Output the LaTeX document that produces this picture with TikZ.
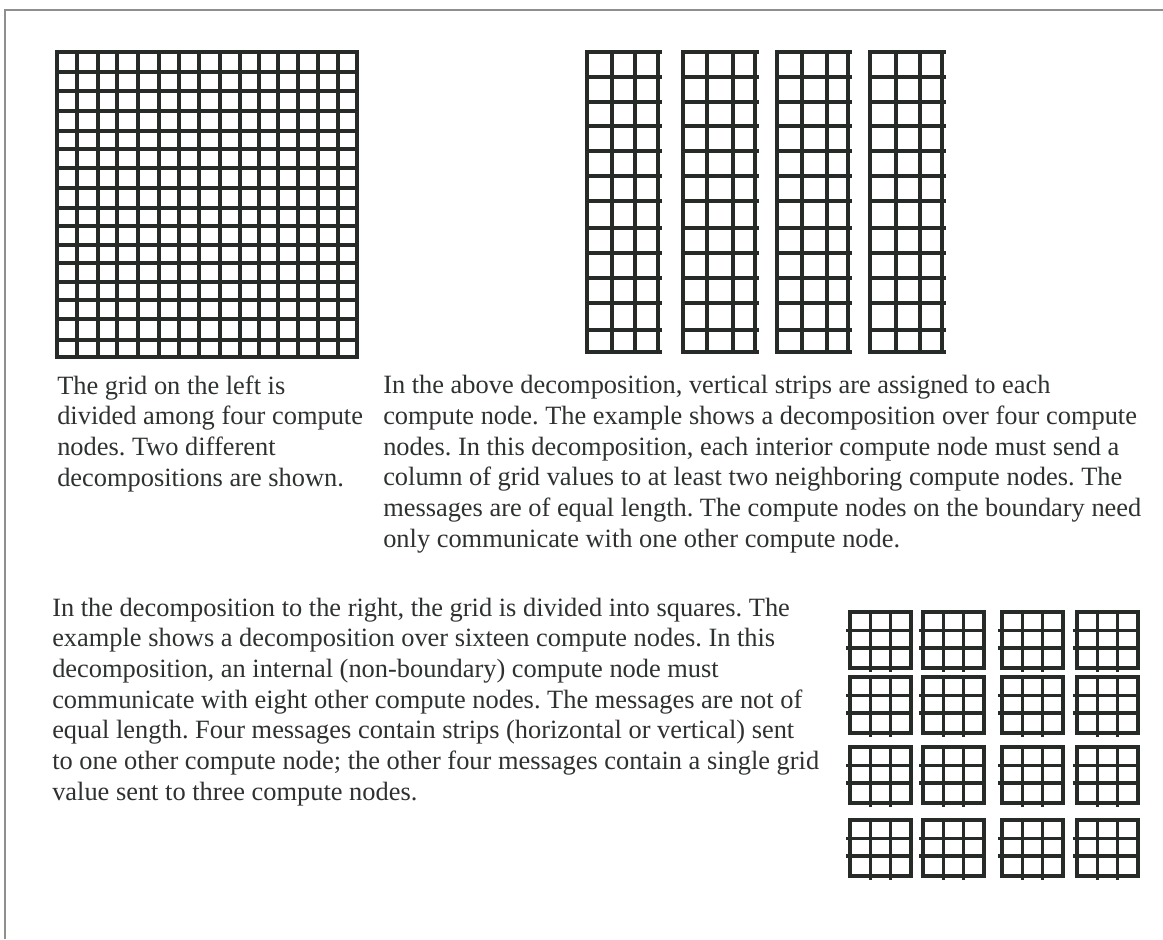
\documentclass[tikz,border=0pt]{standalone}
\usepackage{fontspec}
\setmainfont{Liberation Serif}
\definecolor{ink}{HTML}{272B28}
\definecolor{txt}{HTML}{2E322F}
\definecolor{framec}{HTML}{8E908E}
\begin{document}
\frenchspacing
\begin{tikzpicture}[x=0.75pt,y=-0.75pt,
  gridline/.style={draw=ink,line width=2.5pt,line cap=rect},
  para/.style={anchor=north west,inner sep=0pt,align=left,text=txt,
    font=\fontsize{19.8}{23}\selectfont}]
\fill[white] (0,0) rectangle (1163,939);
\useasboundingbox (0,0) rectangle (1163,939);
% page frame
\draw[framec,line width=1.1pt] (5,939) -- (5,10) -- (1163,10);
% big grid
\foreach \x in {57,77,98,117,138,159,179,199,220,240,259,278,298,318,338,357}
  \draw[gridline] (\x,52) -- (\x,357);
\foreach \y in {52,72,91,111,131,149,168,188,208,226,245,263,282,300,319,340,357}
  \draw[gridline] (57,\y) -- (357,\y);
% vertical strips
\foreach \a/\b/\c/\d in {587/612/635/658,683/707/733/755,777/802/827/848,870/896/920/942}{
  \foreach \x in {\a,\b,\c,\d}
    \draw[gridline] (\x,52) -- (\x,352);
  \foreach \y in {52,77,102,126,151,176,201,228,253,278,303,330,352}
    \draw[gridline] (\a,\y) -- ({\d+2},\y);
}
% square blocks
\foreach \sx in {850,923,1002,1077}{
  \foreach \sy in {612,677,747,820}{
    \draw[gridline] (\sx,\sy) rectangle ({\sx+61},{\sy+56});
    \draw[gridline] ({\sx-2},{\sy+18.5}) -- ({\sx+58},{\sy+18.5});
    \draw[gridline] ({\sx-2},{\sy+36}) -- ({\sx+58},{\sy+36});
    \draw[gridline] ({\sx+20.5},\sy) -- ({\sx+20.5},{\sy+58});
    \draw[gridline] ({\sx+40.5},\sy) -- ({\sx+40.5},{\sy+58});
  }
}
% texts
\node[para] (caption) at (57,375.2) {The grid on the left is\\divided among four compute\\nodes. Two different\\decompositions are shown.};
\node[para] (strips) at (383,375.2) {In the above decomposition, vertical strips are assigned to each\\compute node. The example shows a decomposition over four compute\\nodes. In this decomposition, each interior compute node must send a\\column of grid values to at least two neighboring compute nodes. The\\messages are of equal length. The compute nodes on the boundary need\\only communicate with one other compute node.};
\node[para] (squares) at (52,597.7) {In the decomposition to the right, the grid is divided into squares. The\\example shows a decomposition over sixteen compute nodes. In this\\decomposition, an internal (non-boundary) compute node must\\communicate with eight other compute nodes. The messages are not of\\equal length. Four messages contain strips (horizontal or vertical) sent\\to one other compute node; the other four messages contain a single grid\\value sent to three compute nodes.};
\end{tikzpicture}
\end{document}
